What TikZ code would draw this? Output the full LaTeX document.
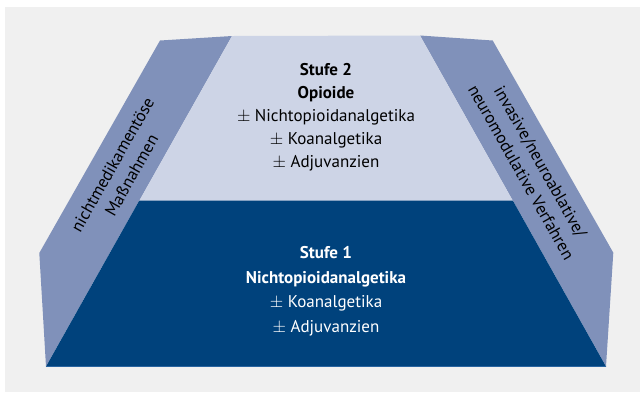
\documentclass[tikz,border=0pt]{standalone}
\usepackage{fontspec}
\setmainfont{PT Sans}
\definecolor{bggray}{RGB}{240,240,240}
\definecolor{sideblue}{RGB}{128,145,186}
\definecolor{lightblue}{RGB}{205,212,230}
\definecolor{darkblue}{RGB}{0,66,124}
\definecolor{edgeblue}{RGB}{40,100,160}
\newcommand{\pmsign}{$\pm$}
\tikzset{
  lbl/.style={align=center, text=black, font=\fontsize{17}{23}\selectfont, inner sep=0pt},
  sidelbl/.style={align=center, text=black, font=\fontsize{17}{22}\selectfont, inner sep=0pt},
  wlbl/.style={align=center, text=white, font=\fontsize{17}{24.5}\selectfont, inner sep=0pt}
}
\begin{document}
\begin{tikzpicture}[x=1pt,y=-1pt]
\useasboundingbox (0,0) rectangle (640,392);
\fill[white] (0,0) rectangle (640,392);
\fill[bggray] (5,7) rectangle (640,392);
% side pieces
\fill[sideblue] (160,40.5) -- (232,36) -- (46,366.5) -- (39.3,253) -- cycle;
\fill[sideblue] (420,35.5) -- (492.7,40.5) -- (613.3,252.7) -- (606,366.5) -- cycle;
% center
\fill[lightblue] (232,36) -- (420,35.5) -- (606,366.5) -- (46,366.5) -- cycle;
\fill[darkblue] (139.2,200.7) -- (512.9,200.7) -- (606,366.5) -- (46,366.5) -- cycle;
\draw[edgeblue, line width=0.6pt] (46,366.5) -- (606,366.5);
% texts
\node[lbl] (s2) at (326,117) {\textbf{Stufe 2}\\\textbf{Opioide}\\\pmsign\ Nichtopioidanalgetika\\\pmsign\ Koanalgetika\\\pmsign\ Adjuvanzien};
\node[wlbl] (s1) at (326,291) {\textbf{Stufe 1}\\\textbf{Nichtopioidanalgetika}\\\pmsign\ Koanalgetika\\\pmsign\ Adjuvanzien};
\node[sidelbl, rotate=60.6] (left) at (122,170) {nichtmedikamentöse\\Maßnahmen};
\node[sidelbl, rotate=-60.6] (right) at (531,167) {invasive/neuroablative/\\neuromodulative Verfahren};
\end{tikzpicture}
\end{document}
